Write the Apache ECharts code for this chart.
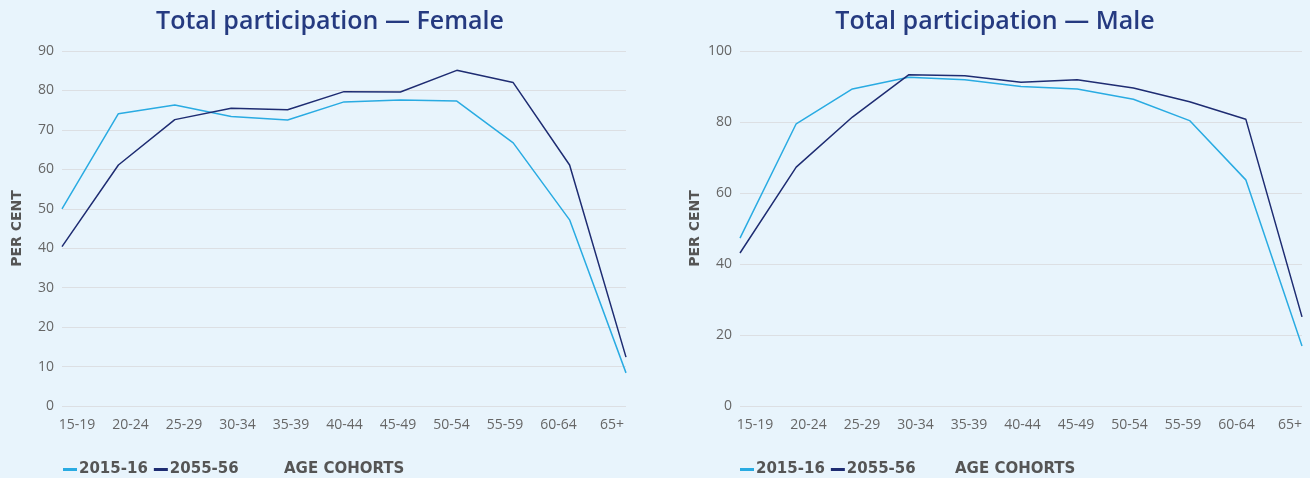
<!DOCTYPE html>
<html>
<head>
<meta charset="utf-8">
<script src="https://cdn.jsdelivr.net/npm/echarts@6/dist/echarts.min.js"></script>
<style>
  html, body { margin: 0; padding: 0; background: #e8f4fc; }
  #chart { width: 1310px; height: 478px; }
</style>
</head>
<body>
<div id="chart"></div>
<script>
// age groups
var ageCohorts = ['15-19', '20-24', '25-29', '30-34', '35-39', '40-44', '45-49', '50-54', '55-59', '60-64', '65+'];
// female participation (per cent)
var female2015 = [50.0, 74.1, 76.3, 73.4, 72.5, 77.1, 77.6, 77.3, 66.7, 47.2, 8.4];
var female2055 = [40.4, 61.1, 72.6, 75.5, 75.1, 79.7, 79.6, 85.1, 82.0, 61.1, 12.4];
// male participation (per cent)
var male2015 = [47.3, 79.5, 89.3, 92.6, 91.9, 90.0, 89.3, 86.4, 80.4, 63.7, 16.9];
var male2055 = [43.1, 67.3, 81.4, 93.3, 93.0, 91.2, 91.9, 89.6, 85.7, 80.8, 25.1];

var lightBlue = '#29abe2';
var navy = '#1e2c72';
var labelGray = '#666666';
var fontFam = '"Open Sans", Lato, sans-serif';
var boldFam = '"DejaVu Sans", sans-serif';

var chart = echarts.init(document.getElementById('chart'));

function yAxisOf(gridIndex, max, interval) {
    return {
        type: 'value',
        gridIndex: gridIndex,
        min: 0,
        max: max,
        interval: interval,
        name: 'PER CENT',
        nameLocation: 'middle',
        nameRotate: 90,
        nameGap: 38,
        nameTextStyle: { color: '#555', fontSize: 14, fontWeight: 'bold', fontFamily: boldFam },
        axisLine: { show: false },
        axisTick: { show: false },
        axisLabel: { color: labelGray, fontSize: 14, margin: 8, fontFamily: fontFam },
        splitLine: { lineStyle: { color: '#dcdfe3', width: 1 } }
    };
}

function lineOf(name, x, y, data, color) {
    return {
        name: name,
        type: 'line',
        xAxisIndex: x,
        yAxisIndex: y,
        data: data,
        symbol: 'none',
        lineStyle: { color: color, width: 1.5 },
        itemStyle: { color: color }
    };
}

function legendOf(left) {
    return {
        left: left,
        top: 457,
        icon: 'rect',
        itemWidth: 14,
        itemHeight: 3,
        itemGap: 6,
        textStyle: { color: '#555', fontSize: 15, fontWeight: 'bold', fontFamily: boldFam, padding: [0, 0, 0, -3] },
        data: ['2015-16', '2055-56']
    };
}

var option = {
    backgroundColor: '#e8f4fc',
    animation: false,
    title: [
        { text: 'Total participation — Female', left: 325, top: 4, textAlign: 'center',
          textStyle: { color: '#253a80', fontSize: 25, fontWeight: 600, fontFamily: fontFam } },
        { text: 'Total participation — Male', left: 990, top: 4, textAlign: 'center',
          textStyle: { color: '#253a80', fontSize: 25, fontWeight: 600, fontFamily: fontFam } },
        { text: 'AGE COHORTS', left: 279, top: 457,
          textStyle: { color: '#555', fontSize: 15, fontWeight: 'bold', fontFamily: boldFam } },
        { text: 'AGE COHORTS', left: 950, top: 457,
          textStyle: { color: '#555', fontSize: 15, fontWeight: 'bold', fontFamily: boldFam } }
    ],
    legend: [legendOf(58), legendOf(735)],
    grid: [
        // data grids
        { left: 62, top: 51, width: 564, height: 355 },
        { left: 740, top: 51, width: 562, height: 355 },
        // label grids (tick labels sit a bit inside the data span)
        { left: 77, top: 51, width: 535, height: 355 },
        { left: 755, top: 51, width: 535, height: 355 }
    ],
    xAxis: [
        { type: 'category', gridIndex: 0, data: ageCohorts, boundaryGap: false,
          axisLine: { show: false }, axisTick: { show: false }, axisLabel: { show: false } },
        { type: 'category', gridIndex: 1, data: ageCohorts, boundaryGap: false,
          axisLine: { show: false }, axisTick: { show: false }, axisLabel: { show: false } },
        { type: 'category', gridIndex: 2, data: ageCohorts, boundaryGap: false,
          axisLine: { show: false }, axisTick: { show: false },
          axisLabel: { color: labelGray, fontSize: 14, margin: 12, interval: 0, fontFamily: fontFam } },
        { type: 'category', gridIndex: 3, data: ageCohorts, boundaryGap: false,
          axisLine: { show: false }, axisTick: { show: false },
          axisLabel: { color: labelGray, fontSize: 14, margin: 12, interval: 0, fontFamily: fontFam } }
    ],
    yAxis: [
        yAxisOf(0, 90, 10),
        yAxisOf(1, 100, 20),
        { type: 'value', gridIndex: 2, show: false },
        { type: 'value', gridIndex: 3, show: false }
    ],
    series: [
        lineOf('2015-16', 0, 0, female2015, lightBlue),
        lineOf('2055-56', 0, 0, female2055, navy),
        lineOf('2015-16', 1, 1, male2015, lightBlue),
        lineOf('2055-56', 1, 1, male2055, navy)
    ]
};

chart.setOption(option);
</script>
</body>
</html>
